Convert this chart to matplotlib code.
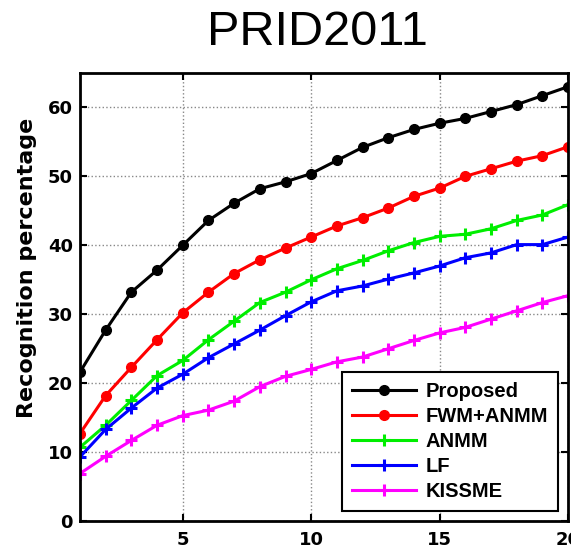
import matplotlib
matplotlib.use("Agg")
import matplotlib.pyplot as plt

ranks = list(range(1, 21))
proposed = [21.6, 27.7, 33.2, 36.4, 40.0, 43.6, 46.1, 48.2, 49.2, 50.4, 52.3, 54.2, 55.6, 56.8, 57.7, 58.4, 59.4, 60.4, 61.7, 63.0]
fwm_anmm = [12.7, 18.2, 22.3, 26.3, 30.2, 33.2, 35.9, 37.9, 39.6, 41.2, 42.8, 44.0, 45.4, 47.1, 48.3, 50.0, 51.1, 52.2, 53.0, 54.3]
anmm = [10.7, 13.9, 17.5, 21.1, 23.3, 26.3, 29.0, 31.7, 33.2, 35.0, 36.6, 37.8, 39.2, 40.4, 41.3, 41.6, 42.4, 43.6, 44.4, 45.9]
lf = [9.3, 13.3, 16.4, 19.3, 21.3, 23.7, 25.7, 27.7, 29.8, 31.8, 33.4, 34.1, 35.1, 36.0, 37.0, 38.2, 38.9, 40.1, 40.1, 41.2]
kissme = [6.9, 9.4, 11.7, 13.9, 15.3, 16.1, 17.4, 19.5, 21.0, 22.0, 23.1, 23.8, 25.0, 26.2, 27.3, 28.1, 29.3, 30.5, 31.7, 32.7]
labels = ["Proposed", "FWM+ANMM", "ANMM", "LF", "KISSME"]
xticks = [5, 10, 15, 20]
yticks = [0, 10, 20, 30, 40, 50, 60]

fig = plt.figure(figsize=(5.71, 5.48), dpi=100)
ax = fig.add_axes([0.14, 0.049, 0.855, 0.818])

series = [proposed, fwm_anmm, anmm, lf, kissme]
colors = ["black", "red", "#00ee00", "blue", "magenta"]
markers = ["o", "o", "+", "+", "+"]
for vals, c, m, lab in zip(series, colors, markers, labels):
    if m == "o":
        ax.plot(ranks, vals, color=c, lw=2.2, marker="o", ms=7, label=lab)
    else:
        ax.plot(ranks, vals, color=c, lw=2.2, marker="+", ms=9, mew=2.2, label=lab)

ax.set_xlim(1, 20)
ax.set_ylim(0, 65)
ax.set_xticks(xticks)
ax.set_yticks(yticks)
ax.grid(True, linestyle=":", color="#888888", lw=1)
ax.tick_params(direction="in", top=True, right=True, length=5, width=1.5, labelsize=13)
ax.tick_params(axis="x", pad=7)
ax.tick_params(axis="y", pad=5)
for t in ax.get_xticklabels() + ax.get_yticklabels():
    t.set_fontweight("bold")
for s in ax.spines.values():
    s.set_linewidth(2)
ax.set_ylabel("Recognition percentage", fontsize=16, fontweight="bold")
ax.yaxis.set_label_coords(-0.088, 0.565)
ax.set_title("PRID2011", fontsize=35, pad=20, family="Liberation Sans", x=0.486)

leg = ax.legend(loc="lower right", prop={"weight": "bold", "size": 14.5, "family": "Liberation Sans"},
                fancybox=False, edgecolor="black", framealpha=1, handlelength=3.2,
                handletextpad=0.45, borderaxespad=0.5, labelspacing=0.3, borderpad=0.5)
leg.get_frame().set_linewidth(1.5)

fig.savefig("out.png", dpi=100)
